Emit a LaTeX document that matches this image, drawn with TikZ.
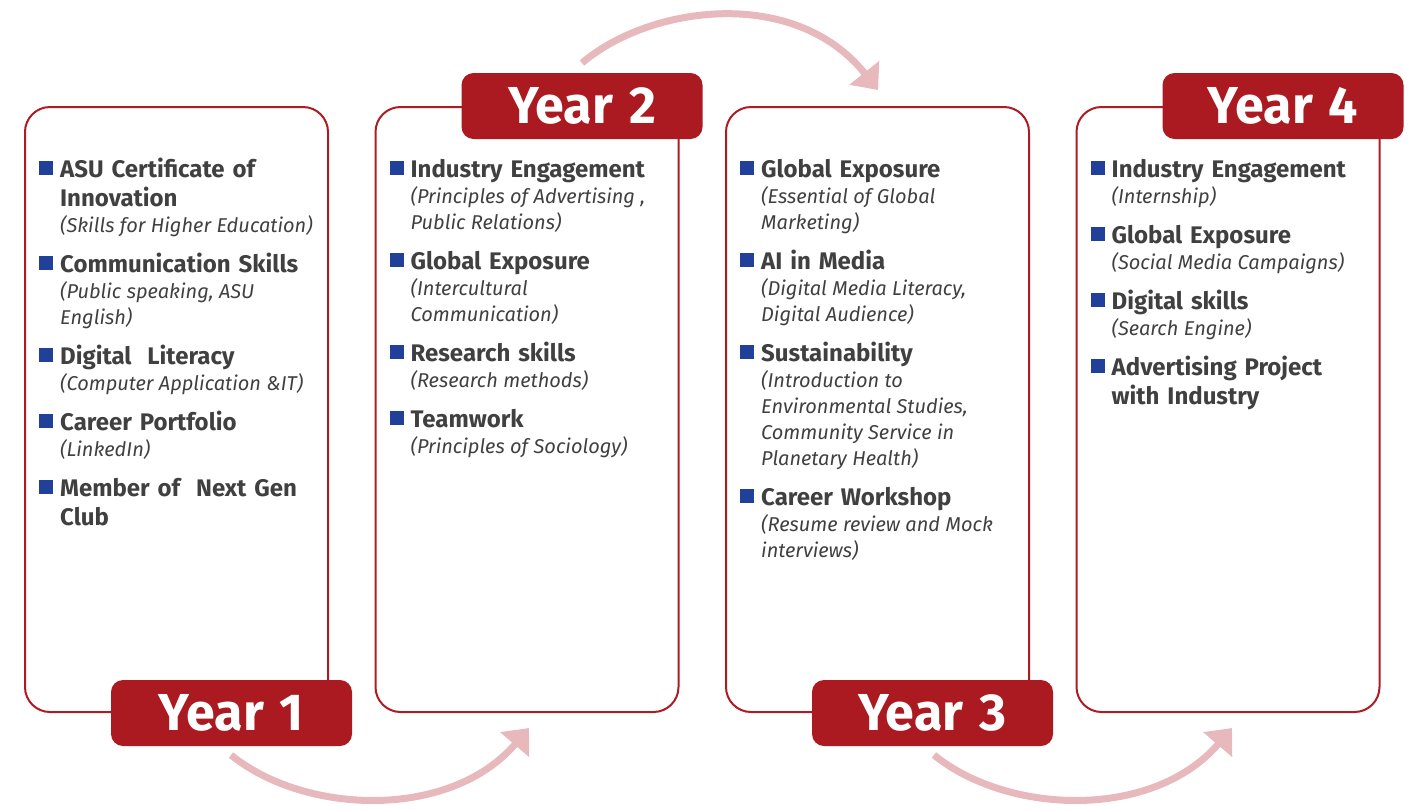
\documentclass[tikz,border=0pt]{standalone}
\usepackage{fontspec}
\setmainfont{Fira Sans}[WordSpace=1.3]
\usepackage{tikz}
\usetikzlibrary{positioning,arrows.meta}

\definecolor{boxred}{HTML}{AD1C22}
\definecolor{labelred}{HTML}{AB1A20}
\definecolor{arrowpink}{HTML}{E8B9BC}
\definecolor{bulletblue}{HTML}{21409A}
\definecolor{textgray}{HTML}{404040}

\newcommand{\yearitem}[2]{%
  \leftskip=21pt\parindent=0pt\rightskip=0pt plus 1fil
  {\color{textgray}\fontsize{24}{29}\selectfont\bfseries\spaceskip=.33em\leavevmode\llap{\raisebox{2pt}{\textcolor{bulletblue}{\rule{14pt}{14pt}}}\hspace{7pt}}#1\par}%
  \if\relax\detokenize{#2}\relax\else
  {\color{textgray}\fontsize{20}{26}\selectfont\itshape\spaceskip=.27em #2\par}\fi
  \vspace{11pt}}

\tikzset{
  panel/.style={rectangle, draw=boxred, line width=2pt, rounded corners=25pt, minimum width=303pt, minimum height=605pt, inner sep=0pt},
  yearlabel/.style={rectangle, fill=labelred, rounded corners=12pt, minimum width=241pt, minimum height=66pt, inner sep=0pt, text=white, font=\fontsize{52}{52}\selectfont\bfseries},
  itemlist/.style={inner sep=0pt, text width=300pt, anchor=base west},
  flow/.style={draw=arrowpink, line width=7pt, -{Triangle[width=37pt,length=22pt]}}
}

\begin{document}
\begin{tikzpicture}[x=1pt, y=-1pt, node distance=45.5pt]
\useasboundingbox (0,0) rectangle (1412,809);

\node [panel] (box1) at (176.5,409.5) {};
\node [panel, right=of box1] (box2) {};
\node [panel, right=of box2] (box3) {};
\node [panel, right=of box3] (box4) {};

\node [yearlabel] (year1) at ([xshift=55pt]box1.south) {Year 1};
\node [yearlabel] (year2) at ([xshift=55pt]box2.north) {Year 2};
\node [yearlabel] (year3) at ([xshift=55pt]box3.south) {Year 3};
\node [yearlabel] (year4) at ([xshift=55pt]box4.north) {Year 4};

\node [itemlist] (list1) at ([xshift=15pt, yshift=-71pt]box1.north west) {%
  \yearitem{ASU Certificate of\\Innovation}{(Skills for Higher Education)}
  \yearitem{Communication Skills}{(Public speaking, ASU\\English)}
  \yearitem{Digital~~Literacy}{(Computer Application \&IT)}
  \yearitem{Career Portfolio}{(LinkedIn)}
  \yearitem{Member of~~Next Gen\\Club}{}};
\node [itemlist] (list2) at ([xshift=15pt, yshift=-71pt]box2.north west) {%
  \yearitem{Industry Engagement}{(Principles of Advertising ,\\Public Relations)}
  \yearitem{Global Exposure}{(Intercultural\\Communication)}
  \yearitem{Research skills}{(Research methods)}
  \yearitem{Teamwork}{(Principles of Sociology)}};
\node [itemlist] (list3) at ([xshift=15pt, yshift=-71pt]box3.north west) {%
  \yearitem{Global Exposure}{(Essential of Global\\Marketing)}
  \yearitem{AI in Media}{(Digital Media Literacy,\\Digital Audience)}
  \yearitem{Sustainability}{(Introduction to\\Environmental Studies,\\Community Service in\\Planetary Health)}
  \yearitem{Career Workshop}{(Resume review and Mock\\interviews)}};
\node [itemlist] (list4) at ([xshift=15pt, yshift=-71pt]box4.north west) {%
  \yearitem{Industry Engagement}{(Internship)}
  \yearitem{Global Exposure}{(Social Media Campaigns)}
  \yearitem{Digital skills}{(Search Engine)}
  \yearitem{Advertising Project\\with Industry}{}};

\coordinate (go1) at (231,755);
\coordinate (to1) at (529,728);
\coordinate (go2) at (582,63);
\coordinate (to2) at (878,90);
\coordinate (go3) at (934,755);
\coordinate (to3) at (1232,728);
\draw [flow] (go1) .. controls (305,815) and (450,820) .. (to1);
\draw [flow] (go2) .. controls (650,5) and (795,-14) .. (to2);
\draw [flow] (go3) .. controls (1008,815) and (1153,820) .. (to3);
\end{tikzpicture}
\end{document}
